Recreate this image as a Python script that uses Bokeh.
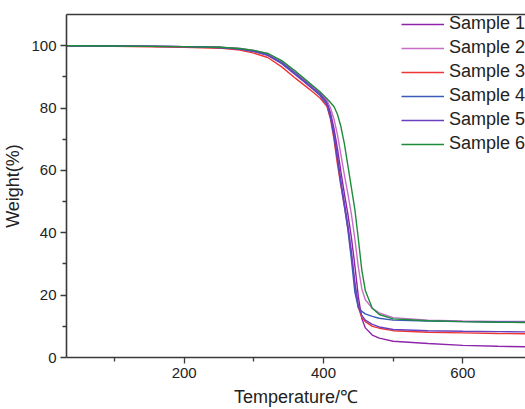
from bokeh.plotting import figure
from bokeh.models import Range1d, FixedTicker, LinearAxis, Legend, LegendItem
from bokeh.embed import file_html
from bokeh.resources import INLINE

# Temperature grid (°C) shared by all samples
temp = [30, 100, 200, 250, 280, 300, 320, 340, 360, 380, 395, 405, 410, 415, 420,
        425, 430, 435, 440, 445, 450, 455, 460, 470, 480, 500, 550, 600, 650, 700]

# Weight (%) per sample
w_s1 = [100, 99.9, 99.7, 99.5, 99.0, 98.3, 97.2, 94.6, 91.2, 87.5, 84.8, 82.0, 78.5, 73.5, 67.0,
        59.5, 52.5, 46.0, 38.5, 29.5, 19.5, 12.5, 9.5, 7.2, 6.2, 5.2, 4.5, 3.9, 3.6, 3.4]
w_s2 = [100, 99.9, 99.7, 99.5, 99.1, 98.5, 97.4, 95.0, 91.5, 87.8, 85.0, 82.5, 80.0, 76.5, 71.5,
        65.0, 58.5, 52.5, 46.0, 38.0, 29.0, 22.0, 18.5, 15.8, 14.3, 12.8, 12.0, 11.7, 11.6, 11.5]
w_s3 = [100, 99.8, 99.5, 99.2, 98.6, 97.6, 96.2, 93.2, 89.5, 86.0, 83.2, 80.5, 76.5, 70.0, 62.0,
        55.0, 48.5, 41.5, 33.0, 23.5, 16.0, 12.8, 11.5, 10.0, 9.4, 8.6, 8.1, 7.9, 7.7, 7.6]
w_s4 = [100, 99.9, 99.7, 99.4, 98.9, 98.2, 97.0, 94.5, 91.0, 87.0, 84.0, 81.0, 77.0, 71.0, 63.5,
        55.5, 48.5, 41.0, 31.5, 21.0, 16.0, 14.8, 14.0, 13.2, 12.6, 12.0, 11.7, 11.5, 11.4, 11.3]
w_s5 = [100, 99.9, 99.7, 99.4, 98.9, 98.1, 96.9, 94.2, 90.6, 87.0, 84.5, 81.5, 77.5, 72.0, 64.5,
        56.5, 49.5, 42.5, 34.0, 24.0, 16.5, 13.5, 12.0, 10.6, 9.8, 9.0, 8.6, 8.4, 8.3, 8.2]
w_s6 = [100, 99.9, 99.7, 99.5, 99.1, 98.5, 97.5, 95.2, 91.8, 88.0, 85.2, 83.0, 81.8, 80.5, 78.0,
        74.0, 68.5, 61.5, 54.5, 47.5, 38.0, 28.0, 21.5, 15.8, 13.8, 12.4, 11.8, 11.5, 11.3, 11.2]

labels = ["Sample 1", "Sample 2", "Sample 3", "Sample 4", "Sample 5", "Sample 6"]
series = [w_s1, w_s2, w_s3, w_s4, w_s5, w_s6]
colors = ["#8E24AA", "#C86DC8", "#F03535", "#3A5BB8", "#6A3FC0", "#1E8C3A"]

x_ticks = [200, 400, 600]
x_minor = [100, 300, 500]
y_ticks = [0, 20, 40, 60, 80, 100]
y_minor = [10, 30, 50, 70, 90]

FONT = "Liberation Sans"
AX = "#3a3a3a"

p = figure(width=525, height=409, output_backend="svg", toolbar_location=None,
           x_range=Range1d(31, 690), y_range=Range1d(0, 110),
           min_border_top=14, min_border_right=0, min_border_left=5, min_border_bottom=5,
           x_axis_label="Temperature/℃", y_axis_label="Weight(%)")
p.outline_line_color = None
p.grid.visible = False
p.background_fill_color = "white"

p.xaxis.ticker = FixedTicker(ticks=x_ticks, minor_ticks=x_minor)
p.yaxis.ticker = FixedTicker(ticks=y_ticks, minor_ticks=y_minor)

for ax in [p.xaxis[0], p.yaxis[0]]:
    ax.axis_line_color = AX
    ax.axis_line_width = 1.6
    ax.major_tick_line_color = AX
    ax.minor_tick_line_color = AX
    ax.major_tick_line_width = 1.3
    ax.minor_tick_line_width = 1.3
    ax.major_tick_out = 6
    ax.major_tick_in = 0
    ax.minor_tick_out = 4
    ax.minor_tick_in = 0
    ax.major_label_text_font = FONT
    ax.major_label_text_font_size = "15px"
    ax.major_label_text_color = "#222222"
    ax.axis_label_text_font = FONT
    ax.axis_label_text_font_size = "18px"
    ax.axis_label_text_font_style = "normal"
    ax.axis_label_text_color = "#222222"
    ax.major_label_standoff = 4
    ax.axis_label_standoff = 6
p.yaxis[0].axis_label_standoff = 5

top = LinearAxis(ticker=FixedTicker(ticks=[]), axis_line_color=AX, axis_line_width=1.6,
                 major_label_text_font_size="0px", major_tick_line_color=None,
                 minor_tick_line_color=None, axis_label=None)
p.add_layout(top, "above")

items = []
for lab, w, c in zip(labels, series, colors):
    r = p.line(temp, w, line_color=c, line_width=1.4)
    items.append(LegendItem(label=lab, renderers=[r]))

legend = Legend(items=items, location=(335, 203), background_fill_alpha=0,
                border_line_color=None, label_text_font=FONT, label_text_font_size="18px",
                label_text_color="#222222", glyph_width=43, glyph_height=20, label_height=20,
                label_standoff=5, spacing=3, padding=0, margin=0)
p.add_layout(legend)

open("out.html", "w").write(file_html(p, INLINE))
